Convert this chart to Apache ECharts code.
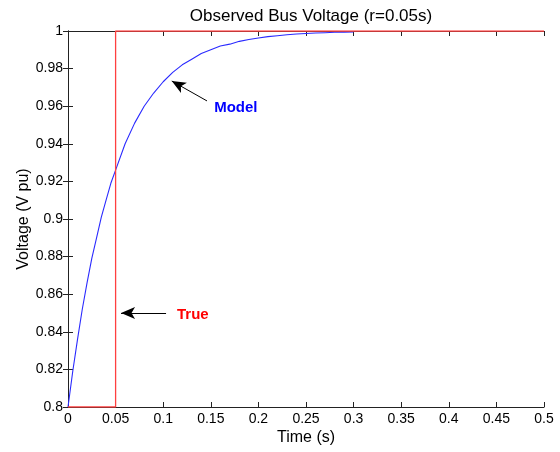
<!DOCTYPE html>
<html>
<head>
<meta charset="utf-8">
<script src="https://cdn.jsdelivr.net/npm/echarts@6/dist/echarts.min.js"></script>
<style>
  html, body { margin: 0; padding: 0; background: #fff; }
  #chart { width: 560px; height: 452px; }
</style>
</head>
<body>
<div id="chart"></div>
<script>
// model response
var modelTime = [0, 0.005, 0.01, 0.015, 0.02, 0.025, 0.03, 0.035, 0.04, 0.045, 0.05,
    0.06, 0.07, 0.08, 0.09, 0.1,
    0.11, 0.12, 0.13, 0.14, 0.15, 0.16, 0.17, 0.18, 0.19, 0.2,
    0.21, 0.22, 0.23, 0.24, 0.25, 0.26, 0.27, 0.28, 0.29, 0.3];
var modelVoltage = [0.8, 0.819, 0.836, 0.852, 0.866, 0.879, 0.890, 0.901, 0.910, 0.919, 0.926,
    0.940, 0.951, 0.960, 0.967, 0.973,
    0.978, 0.982, 0.985, 0.988, 0.990, 0.992, 0.993, 0.9945, 0.9955, 0.9963,
    0.997, 0.9975, 0.998, 0.9984, 0.9987, 0.9989, 0.9991, 0.9993, 0.9994, 0.9995];
// true (step) voltage
var trueTime = [0, 0.05, 0.05, 0.5];
var trueVoltage = [0.8, 0.8, 1, 1];

function pairs(xs, ys) {
    var out = [];
    for (var i = 0; i < xs.length; i++) out.push([xs[i], ys[i]]);
    return out;
}

var font = 'Liberation Sans, Arial, sans-serif';
var myChart = echarts.init(document.getElementById('chart'));
var tickStyle = {show: true, inside: true, length: 5, lineStyle: {color: '#222'}};
var lineStyle = {show: true, lineStyle: {color: '#222', width: 1}};

option = {
    animation: false,
    title: {
        text: 'Observed Bus Voltage (r=0.05s)',
        left: 306,
        top: 3,
        textAlign: 'center',
        textStyle: {fontFamily: font, fontSize: 17, fontWeight: 'normal', color: '#000'}
    },
    grid: {left: 68, right: 16, top: 31, bottom: 45},
    xAxis: [
        {
            type: 'value', min: 0, max: 0.5, interval: 0.05,
            name: 'Time (s)', nameLocation: 'middle', nameGap: 23, nameMoveOverlap: false,
            nameTextStyle: {fontFamily: font, fontSize: 16, color: '#000'},
            axisLine: lineStyle, axisTick: tickStyle, splitLine: {show: false},
            axisLabel: {fontFamily: font, fontSize: 14, color: '#000', margin: 5}
        },
        {
            type: 'value', min: 0, max: 0.5, interval: 0.05, position: 'top',
            axisLine: lineStyle, axisTick: tickStyle, splitLine: {show: false},
            axisLabel: {show: false}
        }
    ],
    yAxis: [
        {
            type: 'value', min: 0.8, max: 1, interval: 0.02,
            name: 'Voltage (V pu)', nameLocation: 'middle', nameGap: 36, nameMoveOverlap: false,
            nameTextStyle: {fontFamily: font, fontSize: 16, color: '#000'},
            axisLine: lineStyle, axisTick: tickStyle, splitLine: {show: false},
            axisLabel: {fontFamily: font, fontSize: 14, color: '#000', margin: 5}
        },
        {
            type: 'value', min: 0.8, max: 1, interval: 0.02, position: 'right',
            axisLine: lineStyle, axisTick: tickStyle, splitLine: {show: false},
            axisLabel: {show: false}
        }
    ],
    series: [
        {
            name: 'True',
            type: 'line',
            data: pairs(trueTime, trueVoltage),
            showSymbol: false,
            lineStyle: {color: '#ff4040', width: 1.3},
            z: 3
        },
        {
            name: 'Model',
            type: 'line',
            data: pairs(modelTime, modelVoltage),
            showSymbol: false,
            lineStyle: {color: '#2a2aff', width: 1.1},
            z: 2,
            markLine: {
                silent: true,
                symbol: ['arrow', 'none'],
                symbolSize: [9, 14],
                label: {show: false},
                lineStyle: {color: '#000', width: 1, type: 'solid'},
                data: [
                    [{coord: [0.109, 0.9734]}, {coord: [0.146, 0.9628]}],
                    [{coord: [0.0557, 0.85]}, {coord: [0.103, 0.85]}]
                ]
            },
            markPoint: {
                silent: true,
                symbol: 'circle',
                symbolSize: 0,
                data: [
                    {coord: [0.1535, 0.959], label: {show: true, formatter: 'Model', position: 'right', distance: 0,
                        fontFamily: font, fontSize: 15, fontWeight: 'bold', color: '#0000ff'}},
                    {coord: [0.1145, 0.849], label: {show: true, formatter: 'True', position: 'right', distance: 0,
                        fontFamily: font, fontSize: 15, fontWeight: 'bold', color: '#ff0000'}}
                ]
            }
        }
    ]
};

myChart.setOption(option);
</script>
</body>
</html>
